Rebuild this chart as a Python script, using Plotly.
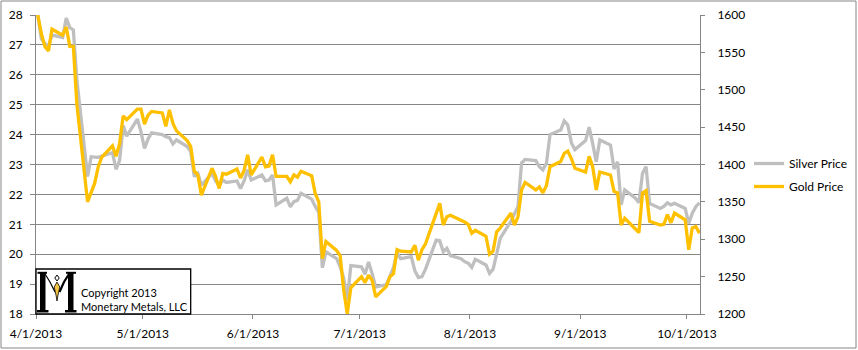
import pandas as pd
import plotly.graph_objects as go

dates = [
    "2013-04-01", "2013-04-02", "2013-04-03", "2013-04-04", "2013-04-05", "2013-04-08", "2013-04-09",
    "2013-04-10", "2013-04-11", "2013-04-12", "2013-04-15", "2013-04-16", "2013-04-17", "2013-04-18",
    "2013-04-19", "2013-04-22", "2013-04-23", "2013-04-24", "2013-04-25", "2013-04-26", "2013-04-29",
    "2013-04-30",
    "2013-05-01", "2013-05-02", "2013-05-03", "2013-05-06", "2013-05-07", "2013-05-08", "2013-05-09",
    "2013-05-10", "2013-05-13", "2013-05-14", "2013-05-15", "2013-05-16", "2013-05-17", "2013-05-20",
    "2013-05-21", "2013-05-22", "2013-05-23", "2013-05-24", "2013-05-27", "2013-05-28", "2013-05-29",
    "2013-05-30", "2013-05-31",
    "2013-06-03", "2013-06-04", "2013-06-05", "2013-06-06", "2013-06-07", "2013-06-10", "2013-06-11",
    "2013-06-12", "2013-06-13", "2013-06-14", "2013-06-17", "2013-06-18", "2013-06-19", "2013-06-20",
    "2013-06-21", "2013-06-24", "2013-06-25", "2013-06-26", "2013-06-27", "2013-06-28",
    "2013-07-01", "2013-07-02", "2013-07-03", "2013-07-04", "2013-07-05", "2013-07-08", "2013-07-09",
    "2013-07-10", "2013-07-11", "2013-07-12", "2013-07-15", "2013-07-16", "2013-07-17", "2013-07-18",
    "2013-07-19", "2013-07-22", "2013-07-23", "2013-07-24", "2013-07-25", "2013-07-26", "2013-07-29",
    "2013-07-30", "2013-07-31",
    "2013-08-01", "2013-08-02", "2013-08-05", "2013-08-06", "2013-08-07", "2013-08-08", "2013-08-09",
    "2013-08-12", "2013-08-13", "2013-08-14", "2013-08-15", "2013-08-16", "2013-08-19", "2013-08-20",
    "2013-08-21", "2013-08-22", "2013-08-23", "2013-08-26", "2013-08-27", "2013-08-28", "2013-08-29",
    "2013-08-30",
    "2013-09-02", "2013-09-03", "2013-09-04", "2013-09-05", "2013-09-06", "2013-09-09", "2013-09-10",
    "2013-09-11", "2013-09-12", "2013-09-13", "2013-09-16", "2013-09-17", "2013-09-18", "2013-09-19",
    "2013-09-20", "2013-09-23", "2013-09-24", "2013-09-25", "2013-09-26", "2013-09-27", "2013-09-30",
    "2013-10-01", "2013-10-02", "2013-10-03", "2013-10-04",
]

silver_price = [
    28.0, 27.2, 27.05, 26.95, 27.33, 27.25, 27.9, 27.58, 27.5, 25.8, 22.6, 23.26, 23.25, 23.24,
    23.28, 23.4, 22.84, 23.13, 24.3, 23.95, 24.52, 24.1,
    23.54, 23.85, 24.06, 24.0, 23.93, 23.9, 23.69, 23.82, 23.6, 23.43, 22.6, 22.7, 22.31, 22.7,
    22.45, 22.3, 22.48, 22.4, 22.45, 22.2, 22.45, 22.82, 22.48,
    22.65, 22.45, 22.48, 22.65, 21.65, 21.87, 21.58, 21.76, 21.8, 22.04, 21.84, 21.6, 21.4, 19.55,
    20.08, 19.85, 19.58, 19.2, 18.45, 19.62,
    19.58, 19.33, 19.74, 19.35, 18.9, 18.98, 19.25, 19.55, 20.05, 19.85, 19.92, 19.45, 19.22, 19.25,
    19.5, 20.47, 20.45, 20.08, 20.2, 19.95, 19.85, 19.75, 19.7,
    19.56, 19.83, 19.64, 19.36, 19.5, 20.0, 20.53, 21.1, 21.35, 21.6, 23.05, 23.17, 23.13, 22.93,
    22.82, 23.04, 24.0, 24.15, 24.46, 24.32, 23.73, 23.5,
    23.8, 24.25, 23.7, 23.09, 23.82, 23.65, 22.85, 23.09, 21.65, 22.15, 21.87, 21.72, 22.7, 22.93,
    21.7, 21.53, 21.6, 21.72, 21.65, 21.7, 21.53,
    21.03, 21.37, 21.59, 21.72,
]

gold_price = [
    1600, 1575, 1558, 1552, 1581, 1573, 1584, 1558, 1558, 1480, 1350, 1364, 1375, 1397,
    1410, 1425, 1411, 1428, 1465, 1460, 1474, 1474,
    1454, 1466, 1471, 1469, 1451, 1473, 1455, 1445, 1432, 1424, 1391, 1386, 1359, 1395,
    1384, 1368, 1388, 1387, 1394, 1382, 1392, 1413, 1386,
    1410, 1397, 1398, 1413, 1384, 1384, 1377, 1386, 1383, 1391, 1385, 1361, 1350, 1274,
    1297, 1285, 1278, 1232, 1200, 1235,
    1250, 1242, 1252, 1245, 1223, 1237, 1250, 1254, 1286, 1284, 1283, 1292, 1272, 1286,
    1294, 1336, 1348, 1319, 1330, 1332, 1326, 1323, 1320,
    1308, 1312, 1304, 1280, 1284, 1310, 1315, 1335, 1319, 1330, 1366, 1376, 1366, 1370,
    1362, 1372, 1397, 1404, 1415, 1418, 1408, 1395,
    1390, 1411, 1397, 1366, 1390, 1386, 1364, 1362, 1319, 1328, 1313, 1309, 1362, 1365,
    1324, 1319, 1320, 1333, 1322, 1335, 1326,
    1286, 1315, 1317, 1308,
]

x_tick_dates = ["2013-04-01", "2013-05-01", "2013-06-01", "2013-07-01",
                "2013-08-01", "2013-09-01", "2013-10-01"]
x_tick_labels = ["4/1/2013", "5/1/2013", "6/1/2013", "7/1/2013",
                 "8/1/2013", "9/1/2013", "10/1/2013"]
silver_ticks = [18, 19, 20, 21, 22, 23, 24, 25, 26, 27, 28]
gold_ticks = [1200, 1250, 1300, 1350, 1400, 1450, 1500, 1550, 1600]

W, H = 858, 350
ML, MR, MT, MB = 36, 158, 15, 36
PW, PH = W - ML - MR, H - MT - MB

def fx(x):
    return (x - ML) / PW

def fy(y):
    return (H - MB - y) / PH

GRID = "#868686"
FONT = "Lato"

xd = pd.to_datetime(dates) + pd.Timedelta(hours=12)

fig = go.Figure()
fig.add_trace(go.Scatter(x=xd, y=silver_price, name="Silver Price", mode="lines",
                         line=dict(color="#BFBFBF", width=3.3), legendgroup="s", yaxis="y"))
fig.add_trace(go.Scatter(x=xd, y=gold_price, name="Gold Price", mode="lines",
                         line=dict(color="#FFC000", width=3.3), legendgroup="g", yaxis="y2"))

shapes = []
# outer chart border
shapes.append(dict(type="rect", xref="paper", yref="paper", x0=fx(1), x1=fx(856), y0=fy(348), y1=fy(1),
                   line=dict(color=GRID, width=1), fillcolor="rgba(0,0,0,0)", layer="above"))
# logo box
shapes.append(dict(type="rect", xref="paper", yref="paper", x0=fx(36), x1=fx(190.7), y0=fy(314), y1=fy(269),
                   line=dict(color="black", width=1.3), fillcolor="white", layer="above"))

def poly(points, fill, line_color="black", lw=0):
    p = "M " + " L ".join(f"{fx(a):.5f},{fy(b):.5f}" for a, b in points) + " Z"
    return dict(type="path", xref="paper", yref="paper", path=p, fillcolor=fill,
                line=dict(color=line_color, width=lw), layer="above")

def seg(points, lw, color="black"):
    p = "M " + " L ".join(f"{fx(a):.5f},{fy(b):.5f}" for a, b in points)
    return dict(type="path", xref="paper", yref="paper", path=p,
                line=dict(color=color, width=lw), layer="above")

# stylised "M" logo
shapes.append(poly([(40, 273), (45.5, 273), (45.5, 311), (40, 311)], "black"))
shapes.append(poly([(37.5, 271.8), (47, 271.8), (47, 273.8), (37.5, 273.8)], "black"))
shapes.append(poly([(37, 310), (48.5, 310), (48.5, 312.5), (37, 312.5)], "black"))
shapes.append(poly([(68, 273), (73.5, 273), (73.5, 311), (68, 311)], "black"))
shapes.append(poly([(66, 271.8), (76, 271.8), (76, 273.8), (66, 273.8)], "black"))
shapes.append(poly([(65, 310), (76.5, 310), (76.5, 312.5), (65, 312.5)], "black"))
shapes.append(seg([(45, 274), (50, 282), (55, 292)], 1.2))
shapes.append(seg([(69, 274), (64, 282), (59.5, 292)], 2.2))
shapes.append(poly([(57, 275), (59.2, 278), (57, 281), (54.8, 278)], "white", "black", 1))
shapes.append(poly([(57, 282), (59.8, 287), (57.8, 296), (57, 301), (56.2, 296), (54.2, 287)],
                   "#F6C443", "black", 0.8))

annotations = [
    dict(text="Copyright 2013", xref="paper", yref="paper", x=fx(79), y=fy(292.5), xanchor="left",
         yanchor="middle", showarrow=False, font=dict(family=FONT, size=11, color="black")),
    dict(text="Monetary Metals, LLC", xref="paper", yref="paper", x=fx(79), y=fy(306.5), xanchor="left",
         yanchor="middle", showarrow=False, font=dict(family=FONT, size=11, color="black")),
]

fig.update_layout(
    template="none",
    width=W, height=H,
    margin=dict(l=ML, r=MR, t=MT, b=MB, autoexpand=False),
    paper_bgcolor="white", plot_bgcolor="white",
    font=dict(family=FONT, size=12, color="black"),
    showlegend=True,
    legend=dict(x=fx(749), y=fy(149), xanchor="left", yanchor="top", traceorder="grouped",
                tracegroupgap=4, font=dict(family=FONT, size=12, color="black"),
                bgcolor="rgba(0,0,0,0)", borderwidth=0),
    xaxis=dict(type="date", range=["2013-04-01", "2013-10-04 16:00"],
               tickvals=x_tick_dates, ticktext=x_tick_labels,
               showgrid=False, showline=True, linecolor=GRID, linewidth=1,
               ticks="outside", ticklen=4, tickcolor=GRID, tickwidth=1, ticklabelstandoff=5,
               tickfont=dict(family=FONT, size=12, color="black"), zeroline=False, automargin=False),
    yaxis=dict(range=[18, 28], tickmode="array", tickvals=silver_ticks,
               showgrid=True, gridcolor=GRID, gridwidth=1,
               showline=True, linecolor=GRID, linewidth=1, ticks="outside", ticklen=5,
               tickcolor=GRID, ticklabelstandoff=5, automargin=False,
               tickfont=dict(family=FONT, size=12, color="black"), zeroline=False),
    yaxis2=dict(range=[1200, 1600], tickmode="array", tickvals=gold_ticks,
                overlaying="y", side="right", automargin=False,
                showgrid=False, showline=True, linecolor=GRID, linewidth=1, ticks="outside",
                ticklen=4, tickcolor=GRID, ticklabelstandoff=10,
                tickfont=dict(family=FONT, size=12, color="black"), zeroline=False),
    shapes=shapes,
    annotations=annotations,
)

fig.write_html("out.html")
